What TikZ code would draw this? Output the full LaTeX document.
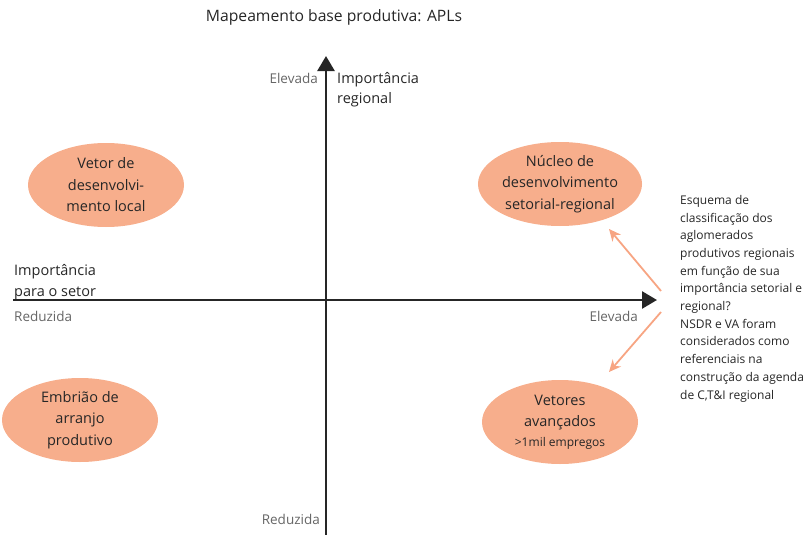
\documentclass[tikz,border=0pt]{standalone}
\usepackage{fontspec}
\setmainfont{Open Sans}
\usetikzlibrary{arrows.meta,shapes.geometric}
\definecolor{ink}{HTML}{262626}
\definecolor{soft}{HTML}{666666}
\definecolor{salmon}{HTML}{F7AE8C}
\definecolor{salmonline}{HTML}{F7A583}
\tikzset{
  axis/.style={line width=2.6pt, draw=ink, -{Triangle[length=15pt,width=17pt]}},
  cluster/.style={ellipse, fill=salmon, minimum width=156pt, minimum height=84pt, inner sep=0pt,
    text=ink, align=center, font=\fontsize{14.5}{21.5}\selectfont},
  pointer/.style={line width=1.8pt, draw=salmonline, -{Stealth[length=12pt,width=11pt]}},
  level/.style={text=soft, font=\fontsize{13.5}{16}\selectfont, inner sep=0pt},
  axislabel/.style={text=ink, align=left, font=\fontsize{14.5}{20.5}\selectfont, inner sep=0pt},
  note/.style={text=ink, align=left, font=\fontsize{12}{17.7}\selectfont, inner sep=0pt},
}
\begin{document}
\begin{tikzpicture}[x=1pt,y=-1pt]
  \useasboundingbox (0,0) rectangle (808,535);

  % title
  \node[text=ink, font=\fontsize{15.7}{18}\selectfont, inner sep=0pt] (title) at (334,17) {Mapeamento base produtiva: APLs};

  % axes
  \coordinate (xstart) at (13,300);
  \coordinate (xend) at (657,300);
  \coordinate (ystart) at (326,535);
  \coordinate (yend) at (326,56);
  \draw[axis] (xstart) -- (xend);
  \draw[axis] (ystart) -- (yend);

  % axis labels (base anchor sits on the last line)
  \node[level, anchor=base east] (ytop) at (318,83) {Elevada};
  \node[axislabel, anchor=base west] (yname) at (337,103.5) {Importância\\regional};
  \node[axislabel, anchor=base west] (xname) at (14,296) {Importância\\para o setor};
  \node[level, anchor=base west] (xlow) at (14,321) {Reduzida};
  \node[level, anchor=base east] (xhigh) at (638,321) {Elevada};
  \node[level, anchor=base east] (ylow) at (320,524) {Reduzida};

  % quadrants
  \node[cluster] (vetor) at (106,185) {Vetor de\\desenvolvi-\\mento local};
  \node[cluster] (nucleo) at (560,184) {Núcleo de\\desenvolvimento\\setorial-regional};
  \node[cluster] (embriao) at (80,420) {Embrião de\\arranjo\\produtivo};
  \node[cluster] (vetores) at (560,422) {Vetores\\avançados\\[-2pt]{\fontsize{12}{14}\selectfont >1mil empregos}};

  % side note
  \node[note, anchor=north west] (esquema) at (680,195) {Esquema de\\classificação dos\\aglomerados\\produtivos regionais\\em função de sua\\importância setorial e\\regional?\\NSDR e VA foram\\considerados como\\referenciais na\\construção da agenda\\de C,T\&I regional};

  % pointers from the note to the two reference groups
  \coordinate (up0) at (661,291);
  \coordinate (up1) at (609,229);
  \coordinate (dn0) at (661,312);
  \coordinate (dn1) at (609,372);
  \draw[pointer] (up0) -- (up1);
  \draw[pointer] (dn0) -- (dn1);
\end{tikzpicture}
\end{document}
